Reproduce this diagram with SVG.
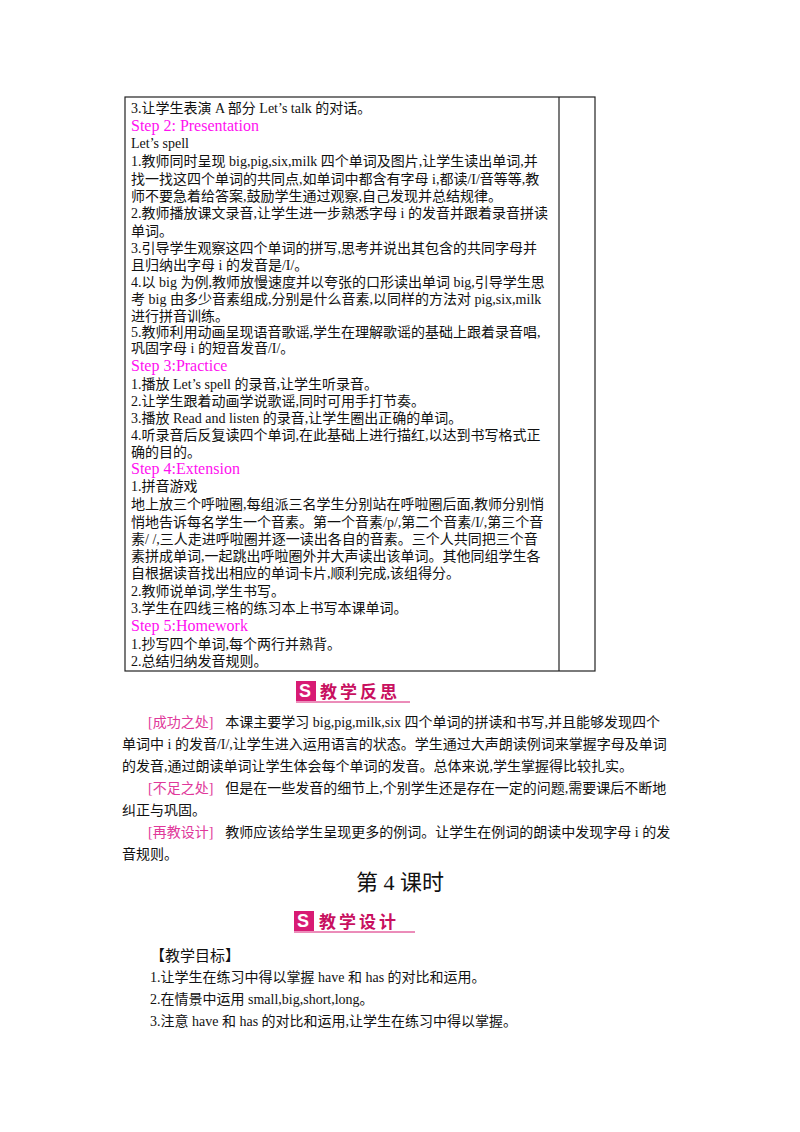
<svg xmlns="http://www.w3.org/2000/svg" width="800" height="1132" viewBox="0 0 800 1132">
<style>
text{font-family:"Liberation Serif","Noto Sans CJK SC",serif;font-size:14px;fill:#111}
.st{fill:#ff10f0;font-size:16px}
.lb{fill:#e0389a}
.bd{font-family:"Noto Sans CJK SC",sans-serif;font-weight:bold;font-size:17px;fill:#c8105f;letter-spacing:3px}
.ln{stroke:#222;stroke-width:1.2;fill:none}
</style>
<rect width="800" height="1132" fill="#fff"/>
<g id="table">
<rect class="ln" x="125" y="97" width="470" height="574"/>
<line class="ln" x1="559" y1="97" x2="559" y2="671"/>
<text x="131" y="113">3.让学生表演 A 部分 Let’s talk 的对话。</text>
<text class="st" x="131" y="131">Step 2: Presentation</text>
<text x="131" y="148">Let’s spell</text>
<text x="131" y="166">1.教师同时呈现 big,pig,six,milk 四个单词及图片,让学生读出单词,并</text>
<text x="131" y="184">找一找这四个单词的共同点,如单词中都含有字母 i,都读/I/音等等,教</text>
<text x="131" y="201">师不要急着给答案,鼓励学生通过观察,自己发现并总结规律。</text>
<text x="131" y="218">2.教师播放课文录音,让学生进一步熟悉字母 i 的发音并跟着录音拼读</text>
<text x="131" y="236">单词。</text>
<text x="131" y="253">3.引导学生观察这四个单词的拼写,思考并说出其包含的共同字母并</text>
<text x="131" y="270">且归纳出字母 i 的发音是/I/。</text>
<text x="131" y="287">4.以 big 为例,教师放慢速度并以夸张的口形读出单词 big,引导学生思</text>
<text x="131" y="304">考 big 由多少音素组成,分别是什么音素,以同样的方法对 pig,six,milk</text>
<text x="131" y="321">进行拼音训练。</text>
<text x="131" y="337">5.教师利用动画呈现语音歌谣,学生在理解歌谣的基础上跟着录音唱,</text>
<text x="131" y="353">巩固字母 i 的短音发音/I/。</text>
<text class="st" x="131" y="371">Step 3:Practice</text>
<text x="131" y="389">1.播放 Let’s spell 的录音,让学生听录音。</text>
<text x="131" y="406">2.让学生跟着动画学说歌谣,同时可用手打节奏。</text>
<text x="131" y="423">3.播放 Read and listen 的录音,让学生圈出正确的单词。</text>
<text x="131" y="440">4.听录音后反复读四个单词,在此基础上进行描红,以达到书写格式正</text>
<text x="131" y="457">确的目的。</text>
<text class="st" x="131" y="474">Step 4:Extension</text>
<text x="131" y="491">1.拼音游戏</text>
<text x="131" y="509">地上放三个呼啦圈,每组派三名学生分别站在呼啦圈后面,教师分别悄</text>
<text x="131" y="527">悄地告诉每名学生一个音素。第一个音素/p/,第二个音素/I/,第三个音</text>
<text x="131" y="544">素/  /,三人走进呼啦圈并逐一读出各自的音素。三个人共同把三个音</text>
<text x="131" y="561">素拼成单词,一起跳出呼啦圈外并大声读出该单词。其他同组学生各</text>
<text x="131" y="578">自根据读音找出相应的单词卡片,顺利完成,该组得分。</text>
<text x="131" y="596">2.教师说单词,学生书写。</text>
<text x="131" y="613">3.学生在四线三格的练习本上书写本课单词。</text>
<text class="st" x="131" y="631">Step 5:Homework</text>
<text x="131" y="649">1.抄写四个单词,每个两行并熟背。</text>
<text x="131" y="666">2.总结归纳发音规则。</text>
</g>
<g id="badge1">
<rect x="296" y="681" width="20" height="20" fill="#d81b74"/>
<text x="299" y="697" style="font-family:'Liberation Sans',sans-serif;font-weight:bold;font-size:18px;fill:#fff">S</text>
<text class="bd" x="320" y="698">教学反思</text>
<line x1="296" y1="702" x2="410" y2="702" stroke="#d81b74" stroke-width="1"/>
</g>
<g id="reflection">
<text x="148" y="727"><tspan class="lb">[成功之处]</tspan><tspan dx="12">本课主要学习 big,pig,milk,six 四个单词的拼读和书写,并且能够发现四个</tspan></text>
<text x="122" y="749">单词中 i 的发音/I/,让学生进入运用语言的状态。学生通过大声朗读例词来掌握字母及单词</text>
<text x="122" y="771">的发音,通过朗读单词让学生体会每个单词的发音。总体来说,学生掌握得比较扎实。</text>
<text x="148" y="793"><tspan class="lb">[不足之处]</tspan><tspan dx="12">但是在一些发音的细节上,个别学生还是存在一定的问题,需要课后不断地</tspan></text>
<text x="122" y="815">纠正与巩固。</text>
<text x="148" y="837"><tspan class="lb">[再教设计]</tspan><tspan dx="12">教师应该给学生呈现更多的例词。让学生在例词的朗读中发现字母 i 的发</tspan></text>
<text x="122" y="859">音规则。</text>
</g>
<text x="400" y="890" text-anchor="middle" style="font-size:22px">第 4 课时</text>
<g id="badge2">
<rect x="294" y="911" width="20" height="20" fill="#d81b74"/>
<text x="297" y="927" style="font-family:'Liberation Sans',sans-serif;font-weight:bold;font-size:18px;fill:#fff">S</text>
<text class="bd" x="319" y="928">教学设计</text>
<line x1="294" y1="932" x2="415" y2="932" stroke="#d81b74" stroke-width="1"/>
</g>
<g id="goals">
<text x="150" y="961" style="font-size:15px">【教学目标】</text>
<text x="150" y="982">1.让学生在练习中得以掌握 have  和  has  的对比和运用。</text>
<text x="150" y="1004">2.在情景中运用 small,big,short,long。</text>
<text x="150" y="1026">3.注意 have  和  has  的对比和运用,让学生在练习中得以掌握。</text>
</g>
</svg>
